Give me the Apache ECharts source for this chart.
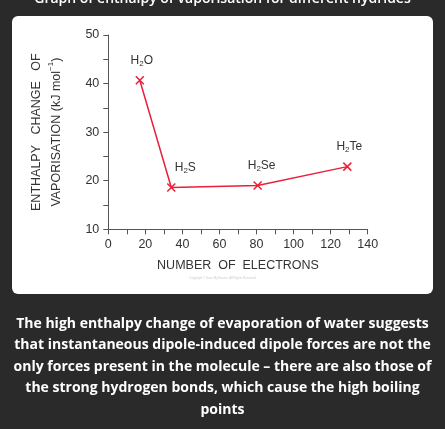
<!DOCTYPE html>
<html><head><meta charset="utf-8">
<script src="https://cdn.jsdelivr.net/npm/echarts@6/dist/echarts.min.js"></script>
<style>html,body{margin:0;padding:0;background:#2a2a2a;}#c{width:445px;height:429px;}</style>
</head><body><div id="c"></div>
<script>
const names = ['H2O','H2S','H2Se','H2Te'];
const labels = ['H{s|2}O','H{s|2}S','H{s|2}Se','H{s|2}Te'];
const electrons = [17, 34, 80.6, 129];
const enthalpy = [40.7, 18.6, 19, 22.9];
const xTicks = [0,20,40,60,80,100,120,140];
const yTicks = [10,20,30,40,50];
const caption = ['The high enthalpy change of evaporation of water suggests','that instantaneous dipole-induced dipole forces are not the','only forces present in the molecule – there are also those of','the strong hydrogen bonds, which cause the high boiling','points'];

const chart = echarts.init(document.getElementById('c'));
const labelOffsets = [[2,-3],[14,-3],[4,-3],[2,-3]];
const axisFont = {color:'#333',fontFamily:'Liberation Sans',fontSize:11};
chart.setOption({
  backgroundColor:'#2a2a2a',
  graphic:[
    {type:'rect',shape:{x:12,y:16,width:421,height:278,r:6},style:{fill:'#fff'},z:-10},
    {type:'text',x:222.5,y:-8,style:{text:'Graph of enthalpy of vaporisation for different hydrides',fill:'#fff',font:'600 14px "Open Sans"',textAlign:'center'}},
    {type:'text',x:222.5,y:277,style:{text:'Copyright © Save My Exams. All Rights Reserved',fill:'#ccc',font:'3px sans-serif',textAlign:'center'}},
    {type:'text',x:222.5,y:313,style:{text:caption.join('\n'),fill:'#fff',font:'bold 14px "Open Sans"',lineHeight:21.5,textAlign:'center'}}
  ],
  grid:{left:108.3,right:77.3,top:35,bottom:199.7},
  xAxis:{type:'value',min:0,max:140,interval:20,
    name:'NUMBER  OF  ELECTRONS',nameLocation:'middle',nameGap:30,nameTextStyle:{...axisFont,fontSize:12.5},
    axisLine:{lineStyle:{color:'#555'}},axisTick:{lineStyle:{color:'#555'},length:5},
    minorTick:{show:true,splitNumber:2,length:5,lineStyle:{color:'#555'}},
    axisLabel:{...axisFont,fontSize:12.5,margin:9},splitLine:{show:false}},
  yAxis:{type:'value',min:10,max:50,interval:10,
    name:'ENTHALPY   CHANGE   OF\nVAPORISATION (kJ mol{sup|−1})',nameLocation:'middle',nameGap:42,
    nameTextStyle:{...axisFont,fontSize:12.5,lineHeight:20,rich:{sup:{fontSize:8,verticalAlign:'top',color:'#333'}}},
    axisLine:{show:true,lineStyle:{color:'#555'}},axisTick:{show:true,lineStyle:{color:'#555'},length:5},
    minorTick:{show:true,splitNumber:2,length:5,lineStyle:{color:'#555'}},
    axisLabel:{...axisFont,fontSize:12.5,margin:9},splitLine:{show:false}},
  series:[{type:'line',data:electrons.map((x,i)=>({value:[x,enthalpy[i]],name:names[i],
      label:{show:true,formatter:labels[i],position:'top',offset:labelOffsets[i],color:'#333',fontSize:12,fontFamily:'Liberation Sans',rich:{s:{fontSize:8,verticalAlign:'bottom',padding:[6,0,0,0],color:'#333'}}}})),
    symbol:'path://M0,0L10,10M10,0L0,10',symbolSize:8,
    itemStyle:{color:'#fff',borderColor:'#e8203a',borderWidth:1.5},
    lineStyle:{color:'#e8203a',width:1.5}}]
});
</script></body></html>
